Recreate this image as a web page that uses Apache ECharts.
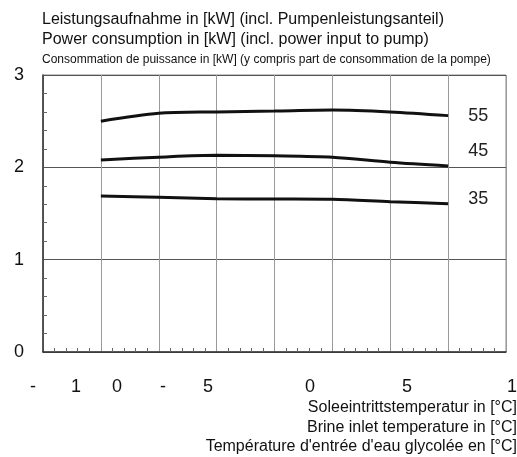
<!DOCTYPE html>
<html>
<head>
<meta charset="utf-8">
<script src="https://cdn.jsdelivr.net/npm/echarts@6/dist/echarts.min.js"></script>
<style>
  html, body { margin: 0; padding: 0; background: #fff; }
  #chart { width: 517px; height: 457px; }
</style>
</head>
<body>
<div id="chart"></div>
<script>
// Soleeintrittstemperatur (°C) der Messpunkte
const brineTemps = [-15, -10, -5, 0, 5, 10, 15];
// Leistungsaufnahme in kW je Vorlauftemperatur
const flow55 = [2.50, 2.585, 2.60, 2.61, 2.62, 2.60, 2.56];
const flow45 = [2.08, 2.11, 2.13, 2.125, 2.11, 2.055, 2.015];
const flow35 = [1.69, 1.675, 1.66, 1.657, 1.654, 1.628, 1.606];
const seriesNames = ['55', '45', '35'];
// Achsbeschriftung wie im Original (zerlegte Ziffern)
const xTickGlyphs = ['-', '1', '0', '-', '5', '0', '5', '1'];
const xTickGlyphPos = [-20.86, -17.15, -13.61, -9.63, -5.75, 3.07, 11.45, 20.52];
const titleLines = [
  'Leistungsaufnahme in [kW] (incl. Pumpenleistungsanteil)',
  'Power consumption in [kW] (incl. power input to pump)',
  'Consommation de puissance in [kW] (y compris part de consommation de la pompe)'
];
const xNameLines = [
  'Soleeintrittstemperatur in [°C]',
  'Brine inlet temperature in [°C]',
  "Température d'entrée d'eau glycolée en [°C]"
];

const font = '"Liberation Sans", Arial, sans-serif';
const chart = echarts.init(document.getElementById('chart'));

function pairs(ys) {
  return brineTemps.map((x, i) => [x, ys[i]]);
}

function lineSeries(name, ys, dy) {
  return {
    name: name,
    type: 'line',
    data: pairs(ys),
    smooth: 0.3,
    symbol: 'none',
    lineStyle: { color: '#111', width: 3 },
    endLabel: {
      show: true,
      formatter: '{a}',
      distance: 20,
      offset: [0, dy],
      fontSize: 18,
      color: '#222',
      fontFamily: font
    },
    silent: true
  };
}

const option = {
  backgroundColor: '#fff',
  animation: false,
  grid: {
    left: 43, right: 11, top: 75, bottom: 105,
    show: true, borderColor: '#8a8a8a', borderWidth: 1
  },
  xAxis: {
    type: 'value',
    min: -20, max: 20, interval: 5,
    axisLine: { show: true, onZero: false, lineStyle: { color: '#333', width: 1.5 } },
    axisTick: { show: false, inside: true },
    minorTick: { show: true, splitNumber: 5, length: 4, lineStyle: { color: '#666' } },
    axisLabel: { show: false },
    splitLine: { show: true, lineStyle: { color: '#9a9a9a', width: 1 } }
  },
  yAxis: {
    type: 'value',
    min: 0, max: 3, interval: 1,
    axisLine: { show: true, onZero: false, lineStyle: { color: '#333', width: 1.5 } },
    axisTick: { show: false, inside: true },
    minorTick: { show: true, splitNumber: 5, length: 4, lineStyle: { color: '#666' } },
    axisLabel: { margin: 19, fontSize: 18, color: '#111', fontFamily: font },
    splitLine: { show: true, lineStyle: { color: '#555', width: 1 } }
  },
  series: [
    lineSeries(seriesNames[0], flow55, 0),
    lineSeries(seriesNames[1], flow45, -15),
    lineSeries(seriesNames[2], flow35, -5)
  ]
};

chart.setOption(option);

// Texte: Titelzeilen, zerlegte Achsziffern, Achsenname
const graphics = [];
titleLines.forEach((t, i) => {
  graphics.push({
    type: 'text', x: 42, y: [20, 40, 60][i],
    style: {
      text: t,
      fontSize: i === 2 ? 12 : 16,
      fontFamily: font,
      fill: '#111',
      verticalAlign: 'middle'
    }
  });
});
xTickGlyphs.forEach((g, i) => {
  const px = chart.convertToPixel({ xAxisIndex: 0 }, xTickGlyphPos[i]);
  graphics.push({
    type: 'text', x: px, y: 387,
    style: {
      text: g, fontSize: 18, fontFamily: font, fill: '#111',
      align: 'center', verticalAlign: 'middle'
    }
  });
});
xNameLines.forEach((t, i) => {
  graphics.push({
    type: 'text', x: 517, y: [408, 428, 447][i],
    style: {
      text: t, fontSize: 16, fontFamily: font, fill: '#111',
      align: 'right', verticalAlign: 'middle'
    }
  });
});
chart.setOption({ graphic: graphics });
</script>
</body>
</html>
